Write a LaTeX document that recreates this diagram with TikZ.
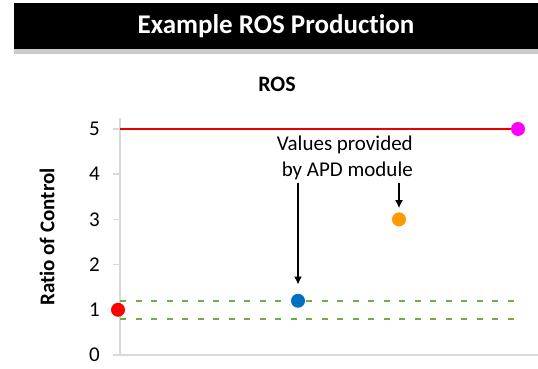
\documentclass[tikz,border=0pt]{standalone}
\usepackage{fontspec}
\setmainfont{Carlito}[Ligatures={NoCommon}]
\usepackage{tikz}
\usetikzlibrary{arrows.meta}
\usetikzlibrary{positioning}
\usetikzlibrary{shadows}
\definecolor{axisgray}{RGB}{217,217,217}
\definecolor{dashgreen}{RGB}{112,173,71}
\definecolor{dotblue}{RGB}{0,112,192}
\definecolor{dotorange}{RGB}{255,153,0}
\definecolor{dotmagenta}{RGB}{255,0,255}
\definecolor{limitred}{RGB}{235,0,0}
\tikzset{
  dot/.style={circle, inner sep=0pt, minimum size=14pt},
  axisline/.style={color=axisgray, line width=1.5pt},
  tolline/.style={color=dashgreen, line width=2pt, dash pattern=on 6pt off 9.5pt},
  pointer/.style={color=black, line width=1.5pt, -{Latex[length=8pt, width=8pt]}},
  ticklabel/.style={anchor=east, inner sep=0pt, font=\fontsize{21}{25}\selectfont}
}

\begin{document}
\begin{tikzpicture}[line cap=butt,line join=round,x=1pt,y=1pt]
\useasboundingbox (0,0) rectangle (538,369);

\node[fill=black, minimum width=524pt, minimum height=46pt, inner sep=0pt,
  drop shadow={shadow xshift=0pt, shadow yshift=-5pt, opacity=0.35, fill=black!60},
  text=white, font=\bfseries\fontsize{27}{32}\selectfont] (titlebar) at (276,343) {Example ROS Production};
\node[font=\bfseries\fontsize{22}{26}\selectfont] (charttitle) at (277,285) {ROS};

\begin{scope}[shift={(120,14)},y=45.2pt]
\draw[axisline] (0,0) -- (0,5.24);
\draw[axisline] (-7,0) -- (418,0);
\foreach \v in {1,...,5}
\draw[axisline] (-7,\v) -- (0,\v);
\foreach \v in {0,...,5}
\node[ticklabel] (tick\v) at (-20,\v) {\v};
\node[rotate=90, font=\bfseries\fontsize{21}{25}\selectfont] (ylabel) at (-73,2.61) {Ratio of Control};

\draw[color=limitred, line width=1.2pt] (0,5) -- (398,5);
\draw[tolline] (0,1.2) -- (398,1.2);
\draw[tolline] (0,0.8) -- (398,0.8);

\node[dot, fill=red] (ctrl) at (-2,1) {};
\node[dot, fill=dotblue] (lowdose) at (178,1.2) {};
\node[dot, fill=dotorange] (middose) at (279,3) {};
\node[dot, fill=dotmagenta] (highdose) at (398,5) {};

\node[anchor=east, align=right, inner sep=0pt, font=\fontsize{21}{26}\selectfont] (apdnote) at (293,4.36) {Values provided\\by APD module};
\coordinate (fromnoteA) at (178,3.805);
\coordinate (fromnoteB) at (279,3.805);
\draw[pointer, shorten >=9pt] (fromnoteA) -- (lowdose);
\draw[pointer, shorten >=4pt] (fromnoteB) -- (middose);
\end{scope}
\end{tikzpicture}
\end{document}
